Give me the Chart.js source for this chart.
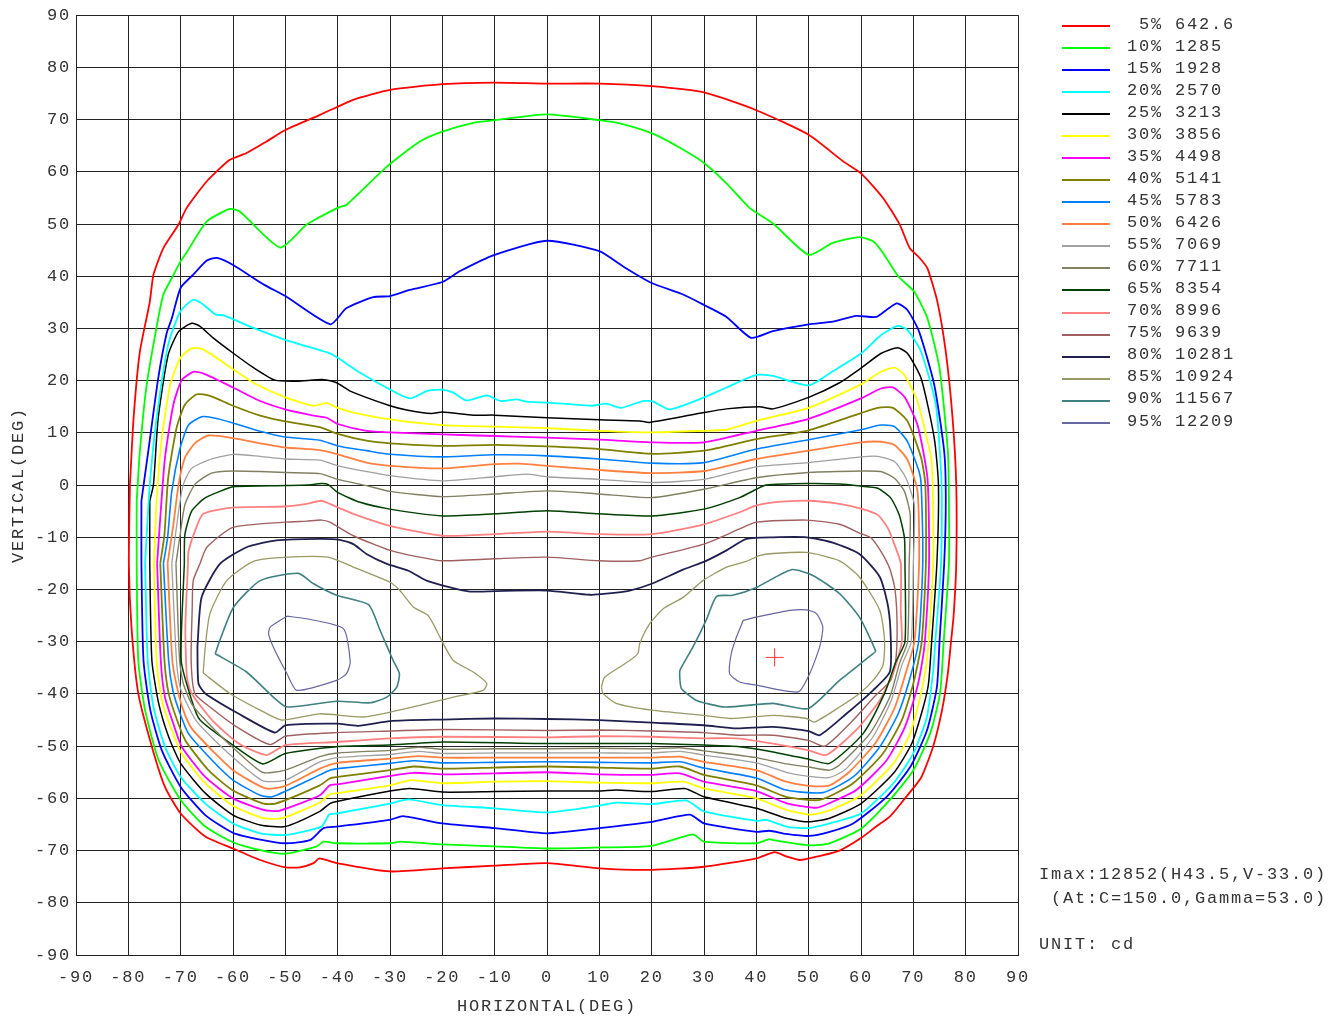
<!DOCTYPE html>
<html>
<head>
<meta charset="utf-8">
<title>Isocandela diagram</title>
<script src="https://cdn.jsdelivr.net/npm/chart.js@4.4.1/dist/chart.umd.min.js"></script>
<style>
  body { margin: 0; background: #fff; }
  #wrap { position: relative; width: 1331px; height: 1019px; }
  #iso { position: absolute; left: 0; top: 0; }
  .txt {
    position: absolute;
    font-family: 'Liberation Mono', monospace;
    font-size: 17px;
    letter-spacing: 1.8px;
    line-height: 20px;
    color: #333;
    white-space: pre;
  }
  .swatch { position: absolute; left: 1062px; width: 48px; height: 2px; }
</style>
</head>
<body>
<div id="wrap">
  <canvas id="iso" width="1331" height="1019"></canvas>
  <div id="legend"></div>
  <div class="txt" style="left:1039px; top:865px">Imax:12852(H43.5,V-33.0)</div>
  <div class="txt" style="left:1039px; top:889px"> (At:C=150.0,Gamma=53.0)</div>
  <div class="txt" style="left:1039px; top:935px">UNIT: cd</div>
</div>
<script>
// contour levels
const levels = ['5%', '10%', '15%', '20%', '25%', '30%', '35%', '40%', '45%', '50%',
                '55%', '60%', '65%', '70%', '75%', '80%', '85%', '90%', '95%'];
const candela = ['642.6', '1285', '1928', '2570', '3213', '3856', '4498', '5141', '5783', '6426',
                 '7069', '7711', '8354', '8996', '9639', '10281', '10924', '11567', '12209'];
const colors = ['#ff0000', '#00ff00', '#0000ff', '#00ffff', '#000000', '#ffff00', '#ff00ff', '#808000',
                '#0080ff', '#ff8040', '#a0a0a0', '#808060', '#004000', '#ff8080', '#a06060', '#202050',
                '#999966', '#408080', '#6666a0'];
const widths = [1.8, 1.8, 1.8, 1.8, 1.5, 1.8, 1.8, 1.8, 1.6, 1.8, 1.3, 1.4, 1.5, 1.8, 1.4, 1.8, 1.3, 1.6, 1.2];

// isolines, [horizontal deg, vertical deg]
const c05 = [[-79.7,0],[-79,12.8],[-77.8,25.5],[-75.9,35.1],[-75.2,40.3],[-73.3,45.4],[-70.4,49.9],[-68.9,53],[-65,58.2],[-60.6,62.3],[-57.4,63.6],[-53.6,65.8],[-50,68],[-43.4,70.9],[-37,73.8],[-30,75.7],[-20,76.8],[-10,77.1],[0,76.9],[10,76.9],[20,76.4],[30,75.2],[40,71.8],[50,67.1],[56.6,62],[60,59.7],[64.2,55],[67.4,49.9],[69.3,45.4],[71.2,43.5],[72.7,41.5],[74.6,35.1],[76.2,25.5],[77.5,12.8],[78.2,0],[78.2,-15],[77.7,-25],[77.2,-30],[76.6,-36],[75.5,-43],[73.8,-50],[71.5,-56],[68.4,-60],[65.5,-63.5],[62.9,-65.4],[60,-67.6],[55.9,-70],[52.2,-71],[48.3,-71.8],[45.7,-71.1],[43.5,-70.3],[40,-71.5],[30,-73.1],[20,-73.7],[10,-73.4],[0,-72.4],[-10,-72.9],[-20,-73.4],[-30,-74],[-40.2,-72.4],[-43.5,-71.5],[-44.6,-72.4],[-47.2,-73.2],[-50,-73.2],[-54.8,-71.8],[-60,-69.6],[-65.3,-67.3],[-70,-62.9],[-73,-57.8],[-75.5,-50.1],[-78.1,-39.9],[-79.4,-27.2],[-79.9,-15],[-79.7,0]];
const c10 = [[-78.4,-3],[-77.8,6.4],[-76.5,19.2],[-74.3,31.9],[-73.3,36.5],[-71.4,40.2],[-70,42.9],[-68.9,44.5],[-65,50.5],[-60.6,52.9],[-58.7,52.4],[-51,45.5],[-45.9,49.9],[-40,53.1],[-38.3,53.7],[-30.6,61],[-24.3,65.8],[-20,67.7],[-14.1,69.4],[-10,69.9],[0,71],[10,69.9],[13.9,69.3],[20,67.4],[25.4,64.6],[30,61.7],[34.3,57.8],[38.7,53.1],[43.2,50.1],[50,44.1],[54.6,46.4],[59.7,47.5],[62.3,46.7],[64.1,44.6],[67.1,40],[70.2,37],[72.7,31.9],[75,22.4],[76.6,6.4],[76.8,-3],[76.8,-15],[75.8,-30],[75.1,-39.9],[73.2,-47.6],[70,-54.6],[65.5,-60.3],[60,-65.8],[54,-68.6],[50,-69],[43.2,-68],[42.5,-67.8],[40,-68.6],[30,-68.3],[27.9,-66.9],[20,-69.1],[10,-69.4],[0,-69.6],[-10,-69.2],[-20,-68.8],[-28.1,-68.3],[-30,-68.6],[-40.2,-68.6],[-42.7,-68.3],[-44,-69.2],[-50,-70.6],[-54.8,-69.9],[-60,-68.4],[-65.3,-65.4],[-70,-60.3],[-74.2,-52.7],[-76.8,-43.1],[-78.1,-33.6],[-78.4,-15],[-78.4,-3]];
const c15 = [[-77.5,-3],[-76.2,6.4],[-74.3,20.4],[-72.7,29],[-71.7,31.9],[-70,37.8],[-67.6,40.3],[-65,43],[-63.1,43.5],[-59.9,42.1],[-54.1,38.4],[-50,36.2],[-41.4,30.8],[-38.3,33.9],[-33.2,36],[-30,36.2],[-26.2,37.4],[-20,38.9],[-16.6,41],[-10,44.1],[0,46.8],[10,44.8],[14.5,41.9],[20,38.7],[26,36.5],[30,34.5],[34.3,32.2],[39,28.2],[43.2,29.5],[50,30.8],[54.6,31.3],[59.1,32.4],[62.9,32.2],[64.8,33.5],[66.9,34.8],[68.9,33.5],[71.1,29.4],[74,19.2],[75.9,6.4],[76.2,-3],[75.9,-15],[75,-30],[74.5,-38.7],[72.6,-47],[69.4,-54],[64.9,-59.7],[58.5,-64.8],[54,-66.4],[50,-67.2],[45.7,-66.8],[42.5,-66.2],[40,-66.4],[30,-64.8],[27.3,-63.1],[20,-64.5],[10,-65.7],[0,-66.7],[-10,-65.7],[-20,-64.8],[-27.5,-63.4],[-30,-64.1],[-40.2,-65.4],[-42.7,-65.7],[-45.3,-68],[-50,-68.6],[-54.8,-67.9],[-60,-66.6],[-65.3,-63.2],[-70,-57.8],[-73.6,-50.8],[-75.8,-43.1],[-77.1,-33.6],[-77.5,-15],[-77.5,-3]];
const c20 = [[-76.8,-15],[-75.9,0.1],[-74.6,12.8],[-72.4,26.8],[-70.1,33.2],[-67.6,35.5],[-65.7,34.6],[-63.4,32.7],[-61.8,32.5],[-56.1,30.1],[-50,27.8],[-41.4,25.2],[-40,24.4],[-35.7,21.5],[-30,18.3],[-26.2,16.6],[-23,18],[-20,18.3],[-17.9,17.7],[-15.4,16.2],[-11.5,17.2],[-8.9,16.1],[-5.8,16.4],[-3.9,16],[0,15.8],[4.3,15.5],[8.5,15.2],[11.3,15.6],[14.2,14.8],[18.3,16.1],[20.3,16],[23.4,14.5],[30,16.8],[34.3,18.7],[40,21.1],[43.2,20.9],[50,19.1],[54.6,21.8],[60,25.2],[63.8,28.7],[67,30.5],[68.9,29.7],[71.5,25.5],[74.3,15.4],[75.4,0],[75.3,-15],[74.2,-30],[73.8,-35.5],[72.6,-44.4],[70,-51.4],[66.2,-57.1],[60,-62.9],[54,-64.8],[50,-65.7],[45.7,-65.4],[41.9,-64.1],[40,-64.3],[30,-62.5],[26.6,-60.4],[20,-61.1],[13.2,-60.8],[10,-61.4],[0,-62.7],[-10,-61.9],[-20,-61.3],[-26.5,-60.2],[-30,-61],[-40.2,-62.9],[-41.6,-63.1],[-43.1,-65.4],[-50,-67],[-54.8,-66.7],[-60,-64.8],[-65.3,-61],[-70,-55.9],[-73,-50.1],[-75.2,-42.5],[-76.3,-33.6],[-76.8,-15]];
const c25 = [[-75.9,-3],[-75.2,0.1],[-74.3,12.8],[-72.4,24.9],[-70.4,29.4],[-67.9,31],[-66.3,30.4],[-63.8,28.2],[-60,25.3],[-56.1,22.5],[-52,20.1],[-47.8,19.9],[-42.7,20.2],[-40.2,19.6],[-37.6,18],[-30,15.2],[-26.8,14.4],[-22.1,13.7],[-20,14],[-14.1,13.4],[-10,13.4],[0,12.9],[10,12.5],[17.7,12.3],[19.6,12],[30,13.9],[34.3,14.6],[40.6,15],[43.2,14.6],[50,16.8],[55.9,19.6],[60,22.4],[63.8,25.2],[67,26.3],[68.9,25.2],[71.5,20.4],[74,9],[74.8,0],[74.5,-15],[73.5,-30],[72.9,-38],[71.9,-42.5],[69.7,-49.5],[66.2,-55.2],[60,-61],[54,-63.8],[50,-64.5],[45.7,-63.8],[41.9,-62.5],[40,-61.9],[30,-59.7],[26.3,-58.1],[20,-58.7],[13.2,-58.4],[10,-58.6],[0,-58.6],[-10,-58.7],[-20,-58.8],[-26.2,-58.1],[-30,-58.6],[-40.2,-60.6],[-41.5,-61],[-43.4,-62.5],[-50,-65.4],[-54.8,-65.1],[-60,-63.2],[-65.3,-59],[-70,-53.3],[-72.3,-48.2],[-74.2,-41.8],[-75.5,-33.6],[-75.9,-15],[-75.9,-3]];
const c30 = [[-75.1,-15],[-74.6,-3.1],[-73.6,9],[-72,19.2],[-70.1,24.3],[-67.9,26.2],[-65.7,26],[-60,22.2],[-56.1,19.6],[-50,16.8],[-44.6,15.2],[-42.1,15.7],[-40,14.8],[-37,13.9],[-30,12.6],[-20,11.5],[-10,11.2],[0,10.9],[10,10.4],[20,10.1],[30,10.4],[34.3,10.6],[40,12.3],[50,14.8],[60,19.3],[63.8,21.7],[66.4,22.5],[68.3,21.1],[70.8,16],[73.4,5.2],[73.7,0],[73.8,-15],[72.9,-30],[72.4,-35],[71.3,-40.6],[69.4,-47.6],[66.2,-53.3],[60,-59.4],[54,-62.3],[50.2,-63.1],[45.7,-62.2],[40,-60],[30,-58.1],[26,-56.8],[20,-57.1],[10,-57],[0,-56.7],[-10,-56.8],[-20,-57.1],[-25.9,-56.5],[-30,-57.5],[-40,-59],[-41.5,-59.2],[-43.4,-60.8],[-50.6,-63.8],[-54.2,-63.8],[-60,-61.4],[-65.3,-57.1],[-69.8,-51.4],[-71.7,-46.9],[-73.6,-41.2],[-74.6,-33.6],[-75.1,-15]];
const c35 = [[-74.5,-15],[-73.9,-6.3],[-73,5.2],[-71.4,15.4],[-69.8,20.1],[-67.6,21.7],[-65.7,21.4],[-60,18.7],[-54.8,16.1],[-50,14.5],[-44.6,13.3],[-42.1,12.9],[-40,11.7],[-34.5,10.4],[-30,10.1],[-20,9.7],[-10,9.4],[0,9.1],[10,8.7],[20,8.2],[30,8.2],[40,10.4],[50,12.7],[60,16.6],[63.8,18.5],[66.1,18.7],[68.3,16.9],[70.8,11.5],[72.7,1.3],[73,-15],[72.2,-30],[71.5,-35],[70.6,-39.3],[68.4,-46.3],[64.9,-52.7],[59.1,-58.4],[54,-60.9],[51.5,-61.8],[45.7,-60.9],[40,-58.6],[30,-56.8],[25.4,-55.2],[20,-55.5],[10,-55.4],[0,-55],[-10,-55.2],[-20,-55.4],[-25.5,-55.1],[-30,-55.7],[-40,-57.3],[-41.5,-57.5],[-43.4,-59.4],[-51.2,-62.4],[-54.2,-62.2],[-60,-60],[-65.3,-55.9],[-69.8,-50.1],[-71.4,-45.7],[-73,-40.6],[-73.8,-33.6],[-74.5,-15]];
const c40 = [[-73.9,-15],[-73.1,-9.5],[-72.4,1.3],[-70.8,10.9],[-69.2,15.4],[-66.9,17.4],[-64.4,17.1],[-60,15.2],[-54.8,13.3],[-50,12.2],[-43.4,11.1],[-40,9.8],[-34.5,8.5],[-30,8],[-20,7.5],[-10,7.7],[0,7.4],[10,6.9],[20,6],[30,6.6],[40,8.8],[50,10.5],[60,13.8],[63.2,14.8],[66.1,14.8],[68.9,12.2],[71.5,5.2],[72.3,0],[72.4,-15],[71.6,-30],[70,-38],[67.8,-45],[64.2,-51.4],[58.5,-57.1],[52.1,-60.3],[45.7,-59.7],[40,-57.5],[30,-55.5],[25.4,-53.9],[20,-54.3],[10,-54.1],[0,-53.9],[-10,-54.1],[-20,-54.3],[-25.5,-53.9],[-30,-54.6],[-40,-55.9],[-41.5,-56.2],[-43.4,-57.5],[-51.9,-61],[-54.2,-61],[-60,-58.5],[-64.7,-54.6],[-69.1,-48.9],[-70.7,-45],[-72.3,-39.9],[-73.1,-33.6],[-73.9,-15]];
const c45 = [[-73.3,-15],[-72.5,-10.1],[-71.7,-1.2],[-70.1,7.1],[-68.5,11.5],[-66,13.1],[-63.8,12.9],[-60,11.9],[-54.8,10.3],[-50,9.2],[-43.4,8.6],[-40,7.5],[-34.5,6.6],[-30,5.9],[-20,5.4],[-10,5.8],[0,5.6],[10,5],[20,4.2],[30,4.3],[40,6.9],[50,8.7],[60,10.6],[63.8,11.5],[66.4,11.2],[68.9,8.3],[71.1,2.6],[71.5,0],[71.8,-15],[71,-30],[69.4,-36.8],[67.1,-43.8],[63.6,-50.1],[58.5,-55.9],[52.7,-58.9],[45.7,-58.4],[40,-56.1],[30,-54.2],[25.4,-53],[20,-53.2],[10,-53.1],[0,-53],[-10,-53.1],[-20,-53.2],[-25.5,-52.8],[-30,-53.3],[-40,-54.3],[-41.5,-54.6],[-43.4,-55.5],[-52.5,-59.7],[-54.8,-59.4],[-60,-56.5],[-64,-52.7],[-68.5,-47.6],[-70.1,-43.8],[-71.5,-39.3],[-72.3,-33.6],[-73.3,-15]];
const c50 = [[-72.5,-15],[-71.4,-7.6],[-70.4,0.1],[-69.2,5.2],[-67.3,8],[-64.7,9.5],[-60,9],[-54.8,8],[-50,7.2],[-43.4,6.7],[-40,5.9],[-34.5,4.3],[-30,3.7],[-20,3.2],[-10,4],[-5.2,4.1],[0,3.7],[10,2.9],[20,2.3],[30,2.7],[40,5],[50,6.6],[60,8.2],[63.8,8.3],[66.4,7.7],[68.9,4.8],[70.8,-1.2],[71.1,-15],[70.2,-30],[68.7,-35.5],[66.5,-42.5],[62.9,-49.2],[57.8,-54.9],[54,-57.5],[50,-57.6],[45.7,-56.8],[40,-54.6],[30,-53],[25.4,-52],[20,-52.2],[10,-52.2],[0,-52.2],[-10,-52.2],[-20,-52.2],[-24.6,-51.9],[-30,-52.4],[-40,-53.2],[-43.4,-54.3],[-50,-57.6],[-53.8,-58.1],[-60,-54.6],[-63.4,-51.4],[-67.9,-46.6],[-69.5,-43.1],[-70.7,-38.7],[-71.6,-33.6],[-72.5,-15]];
const c55 = [[-71.7,-15],[-70.4,-5],[-69.5,0.1],[-67.9,3.2],[-64.7,4.8],[-60,5.9],[-54.8,5.5],[-50,5],[-43.4,4.8],[-40,3.7],[-34.5,2.6],[-30,1.8],[-20,0.8],[-10,1.6],[-3.9,2.1],[0,1.6],[10,1.1],[20,0.5],[30,1.1],[40,3.5],[50,4.3],[60,5.4],[63.2,5.5],[66.4,4.5],[68.6,1.3],[70.2,-3.8],[70,-15],[69.6,-30],[67.9,-34.2],[65.8,-41.2],[62.3,-48.2],[57.2,-54.3],[54,-56],[50,-55.8],[45.7,-55],[40,-53.2],[30,-51.7],[25.4,-51],[20,-51.3],[10,-51.3],[0,-51.3],[-10,-51.3],[-20,-51.4],[-24.6,-51],[-30,-51.6],[-40,-52.2],[-43.4,-53],[-50,-56.5],[-54.4,-56.6],[-61.5,-50.8],[-66.6,-45.7],[-68.5,-42.5],[-70.1,-38.7],[-70.8,-33.6],[-71.7,-15]];
const c60 = [[-70.9,-15],[-70.1,-9.5],[-69.2,-3.8],[-67.3,0.1],[-64.1,2.3],[-60,2.7],[-54.8,2.6],[-50,2.4],[-43.4,2.2],[-40,1.1],[-34.5,-0.1],[-30,-1.2],[-20,-2.2],[-10,-1.7],[0,-1.1],[10,-1.7],[20,-2.4],[30,-0.8],[40,1.4],[50,2.4],[60,2.7],[63.8,2.6],[66.4,1.3],[68.3,-1.2],[69.4,-5.7],[69.2,-15],[68.9,-30],[67.4,-34],[65.5,-40.6],[61.7,-47.6],[55.9,-53.6],[54,-54.6],[50,-54],[45.7,-53.4],[40,-52.2],[30,-50.9],[25.4,-50.3],[20,-50.5],[10,-50.4],[0,-50.5],[-10,-50.5],[-20,-50.6],[-24.6,-50.2],[-30,-50.8],[-40,-51.3],[-43.4,-52],[-50,-54.6],[-54.4,-55],[-60.2,-50.1],[-65.3,-45],[-67.9,-41.9],[-69.5,-38],[-70.2,-33.6],[-70.9,-15]];
const c65 = [[-69.3,-15],[-69.2,-9.5],[-67.9,-5],[-65.4,-2.5],[-61.5,-0.8],[-60,-0.3],[-50,-0.1],[-45.9,0],[-43.1,0.3],[-41.8,0.1],[-40,-1.4],[-35.7,-3.3],[-30,-4.6],[-20,-5.9],[-10,-5.5],[0,-4.9],[10,-5.5],[20,-5.9],[30,-4.6],[36.8,-2.4],[40,-0.8],[41.9,0],[49.6,0.3],[55.9,0.2],[60,-0.2],[63.2,-0.6],[65.7,-2.5],[67.3,-5.7],[68.3,-10.1],[68.4,-15],[68.4,-30],[66.6,-34],[64.5,-39.9],[60.4,-47.6],[54,-53.3],[50,-52.5],[43.2,-51.1],[36.8,-50.1],[30,-49.8],[20,-49.5],[10,-49.5],[0,-49.5],[-20,-49.2],[-30,-49.8],[-40.2,-50.1],[-50,-51.4],[-54.3,-53.4],[-59.6,-50.1],[-66.3,-45],[-67.9,-41.2],[-69.9,-33.6],[-69.3,-15]];
const c70 = [[-68.6,-15],[-68.5,-12.7],[-67.3,-8.9],[-65.7,-5.5],[-60,-4.3],[-50,-4.1],[-45.9,-3.6],[-43.1,-3],[-41.5,-3.6],[-37,-5.5],[-30,-7.8],[-20,-9.7],[-10,-9.4],[0,-8.9],[10,-9.4],[20,-9.4],[30,-7.5],[36.8,-5.2],[40,-3.9],[43.2,-3.3],[50,-3],[55.9,-3.6],[60,-4.5],[63.2,-5.7],[65.1,-8.2],[66.4,-11.4],[67.6,-15],[67.6,-24],[67.8,-30],[66.3,-35.5],[63.6,-41.2],[59.1,-46.9],[53.4,-51.7],[50,-50.8],[43.2,-49.5],[36.2,-48.5],[30,-48.5],[20,-48.2],[10,-48.1],[0,-48.3],[-20,-48.2],[-30,-48.5],[-40.2,-49.2],[-50,-49.8],[-53.6,-51.7],[-58.9,-49.5],[-64,-45],[-67.9,-39.9],[-68.8,-36.8],[-69.1,-27.2],[-68.6,-15]];
const c75 = [[-66.3,-15],[-65,-11.9],[-60,-8.1],[-50,-7.1],[-45.9,-6.9],[-43.1,-6.7],[-41.5,-7.1],[-37,-9.7],[-30,-12.5],[-24.3,-13.8],[-20,-14.5],[-10,-14.1],[0,-13.8],[10,-14.5],[17.7,-14.5],[20,-13.8],[30,-11.3],[36.8,-8.4],[40,-7.1],[49.6,-6.7],[55.9,-7.5],[60,-9.3],[61.9,-10.1],[63.8,-12.7],[65.5,-16],[66.5,-20],[66.9,-27.2],[66.6,-34],[65.6,-37.5],[62.6,-40.5],[58.5,-45],[53.1,-50],[50,-48.9],[43.2,-47.9],[36.2,-47.9],[30,-47.4],[20,-47.1],[10,-46.9],[0,-47],[-20,-46.8],[-30,-47.1],[-40.2,-47.4],[-50,-48.1],[-52.9,-49.7],[-59.3,-46.3],[-64.4,-42.5],[-67.3,-39.9],[-68,-33.6],[-67.8,-24],[-67.6,-18.3],[-66.3,-15]];
const c80 = [[-66.8,-31],[-66,-21.5],[-62.5,-15.1],[-57.4,-11.9],[-51.7,-10.6],[-43.4,-10.3],[-39.6,-10.5],[-37,-11.3],[-34.5,-13.2],[-30.6,-15.1],[-26.5,-16.4],[-23,-18.3],[-18.5,-19.6],[-14.7,-20.4],[-10,-20.3],[0,-20.2],[8.2,-21],[11.3,-20.8],[15.8,-20.2],[20,-18.9],[26,-16.2],[30.4,-14.5],[34.3,-12.5],[38.1,-10.3],[43.2,-10],[49.6,-10],[54.6,-11],[59.7,-13.2],[63.6,-17.6],[65.2,-23.4],[65.7,-29.7],[65.5,-35.8],[62.3,-39.3],[57.2,-43.8],[52.1,-47.9],[50,-47.1],[43.2,-46.3],[36.2,-46.6],[30,-46],[20,-45.5],[10,-45],[0,-44.8],[-10,-44.7],[-20,-44.9],[-30,-45.2],[-36.1,-46.1],[-40.2,-45.7],[-50,-46],[-52,-47.4],[-58.9,-43.8],[-65.3,-39.9],[-66.6,-38],[-66.8,-31]];
const c85L = [[-65.7,-36],[-65.3,-31],[-64.4,-24.6],[-61.2,-18.3],[-56.1,-14.6],[-49.7,-13.8],[-41.8,-13.8],[-37,-15.7],[-30,-18.6],[-28.1,-20.2],[-25.5,-23.4],[-22.7,-25],[-19.8,-30.4],[-17.9,-33.6],[-14.1,-35.8],[-11.5,-38],[-12.2,-39.3],[-17.9,-40.6],[-24.3,-42.2],[-34.8,-44.4],[-43.4,-43.8],[-50.7,-45],[-54.8,-43.1],[-60.6,-39.9],[-65.7,-36]];
const c85R = [[10.4,-38.7],[11,-36.8],[15.8,-33.6],[17.4,-32.2],[17.7,-30.4],[19.6,-26.6],[22.2,-23.7],[26,-21.5],[29.8,-18.3],[34.3,-15.7],[38.1,-14.6],[40.6,-13.5],[43.2,-13.1],[49.6,-12.9],[55.9,-14.5],[59.7,-17.6],[63.6,-24],[64.5,-29.7],[64.2,-34.5],[62.3,-37.4],[59.7,-39.9],[55.9,-42.5],[51.1,-45.4],[49.6,-44.7],[43.2,-44.1],[35.2,-44.7],[30,-44.1],[20,-43.1],[13.2,-41.8],[10.7,-39.9],[10.4,-38.7]];
const c90L = [[-63.4,-32.3],[-62.5,-29.7],[-59.9,-23.4],[-54.8,-18.3],[-47.5,-16.9],[-44.6,-18.9],[-40.2,-21.1],[-34.1,-22.9],[-31.9,-27.8],[-29.4,-33.6],[-28.2,-36.1],[-28.7,-38.7],[-30.6,-40.6],[-33.8,-41.7],[-40.2,-41.4],[-49.7,-42.5],[-52.3,-40.6],[-57.4,-35.8],[-63.4,-32.3]];
const c90R = [[25.4,-37.4],[25.4,-35.5],[27.9,-31],[30.4,-25.9],[32.4,-21.3],[35.5,-21.1],[40,-19.6],[46.7,-16.2],[50.8,-17.3],[55.9,-20.8],[59.7,-25.3],[62.8,-31.8],[62.3,-32.3],[55.9,-37.4],[49.9,-42.8],[43.2,-41.8],[34,-42.5],[28.5,-41.2],[25.7,-39],[25.4,-37.4]];
const c95L = [[-49.7,-25.1],[-45.9,-25.6],[-38.9,-27.5],[-37.6,-33.9],[-38.3,-36.1],[-40.2,-37.4],[-47.8,-39.3],[-49.7,-36.1],[-52.3,-31],[-53.2,-28.5],[-52.9,-27.2],[-49.7,-25.1]];
const c95R = [[37.5,-25.9],[40,-25.3],[46.4,-24],[49.6,-23.9],[51.5,-24.6],[52.7,-27.2],[52.1,-31],[50.2,-36.1],[48,-39.6],[40,-38.3],[36.8,-37.7],[34.9,-36.1],[35.2,-32.3],[36.2,-29.1],[37.5,-25.9]];

// maximum intensity position
const peak = [[43.5, -33.0]];

const contours = [
  [0, c05], [1, c10], [2, c15], [3, c20], [4, c25], [5, c30], [6, c35], [7, c40], [8, c45], [9, c50],
  [10, c55], [11, c60], [12, c65], [13, c70], [14, c75], [15, c80],
  [16, c85L], [16, c85R], [17, c90L], [17, c90R], [18, c95L], [18, c95R]
];

const monoFont = "'Liberation Mono', monospace";

// legend as real text beside the plot
const legendBox = document.getElementById('legend');
levels.forEach(function(lv, i) {
    const sw = document.createElement('div');
    sw.className = 'swatch';
    sw.style.top = Math.round(25 + i * 22.04) + 'px';
    sw.style.background = colors[i];
    legendBox.appendChild(sw);

    const t = document.createElement('div');
    t.className = 'txt';
    t.style.left = '1127px';
    t.style.top = (14.8 + i * 22.04) + 'px';
    t.textContent = lv.padStart(3, ' ') + ' ' + candela[i];
    legendBox.appendChild(t);
});

const datasets = contours.map(function(c) {
    return {
        label: levels[c[0]],
        data: c[1].map(function(p) { return { x: p[0], y: p[1] }; }),
        showLine: true,
        borderColor: colors[c[0]],
        borderWidth: widths[c[0]],
        pointRadius: 0,
        tension: 0.2,
        fill: false
    };
});

datasets.push({
    label: 'Imax',
    data: peak.map(function(p) { return { x: p[0], y: p[1] }; }),
    showLine: false,
    pointStyle: 'cross',
    pointRadius: 9,
    borderColor: '#ff3030',
    borderWidth: 1
});

// spaced-out monospace text like the original plotter
const letterSpacing = {
    id: 'letterSpacing',
    beforeDraw: function(chart) {
        chart.ctx.letterSpacing = '1.8px';
    }
};

new Chart(document.getElementById('iso'), {
    type: 'scatter',
    data: { datasets: datasets },
    options: {
        responsive: false,
        animation: false,
        layout: { padding: { top: 13, right: 313, left: 0, bottom: 0 } },
        plugins: {
            legend: { display: false },
            tooltip: { enabled: false }
        },
        scales: {
            x: {
                type: 'linear',
                min: -90,
                max: 90,
                ticks: {
                    stepSize: 10,
                    autoSkip: false,
                    maxRotation: 0,
                    padding: 12,
                    color: '#333',
                    font: { family: monoFont, size: 17 }
                },
                grid: { color: '#222', lineWidth: 1, drawTicks: false },
                border: { display: true, color: '#222' },
                title: {
                    display: true,
                    text: 'HORIZONTAL(DEG)',
                    color: '#333',
                    font: { family: monoFont, size: 17 },
                    padding: { top: 0, bottom: 2 }
                },
                afterFit: function(scale) { scale.height = 64; }
            },
            y: {
                type: 'linear',
                min: -90,
                max: 90,
                ticks: {
                    stepSize: 10,
                    autoSkip: false,
                    padding: 5,
                    color: '#333',
                    font: { family: monoFont, size: 17 }
                },
                grid: { color: '#222', lineWidth: 1, drawTicks: false },
                border: { display: true, color: '#222' },
                title: {
                    display: true,
                    text: 'VERTICAL(DEG)',
                    color: '#333',
                    font: { family: monoFont, size: 17 },
                    padding: { top: 8, bottom: 0 }
                },
                afterFit: function(scale) { scale.width = 76; }
            }
        }
    },
    plugins: [letterSpacing]
});
</script>
</body>
</html>
